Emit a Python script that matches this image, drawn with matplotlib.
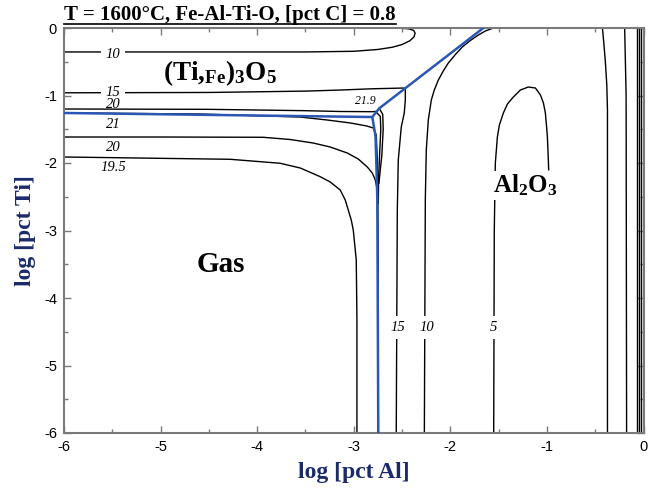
import matplotlib
matplotlib.use("Agg")
import matplotlib.pyplot as plt
from matplotlib.lines import Line2D
import numpy as np

# ---------------- data (log pct Al, log pct Ti) ----------------
x_ticks = [-6, -5, -4, -3, -2, -1, 0]
y_ticks = [0, -1, -2, -3, -4, -5, -6]

# phase boundary (blue)
bnd_top_x = [-6.0, -2.808, -2.736, -1.658]
bnd_top_y = [-1.259, -1.319, -1.19, 0.0]
bnd_vert_x = [-2.808, -2.775, -2.767, -2.756, -2.746]
bnd_vert_y = [-1.319, -1.6, -1.956, -2.548, -6.0]

# Ti3O5 region contour "10" (closed loop to the top)
c10a_x = [-6.0, -4.5, -3.5, -3.0, -2.75, -2.6, -2.5, -2.42, -2.375, -2.365, -2.38, -2.43, -2.52, -2.7, -4.0, -6.0]
c10a_y = [-0.355, -0.355, -0.355, -0.345, -0.318, -0.285, -0.245, -0.19, -0.13, -0.075, -0.035, -0.012, -0.003, 0.0, 0.0, 0.0]

# contour "15" (Ti3O5 horizontal, then Al2O3 vertical)
c15_x = [-6.0, -4.5, -3.5, -3.14, -2.8, -2.466, -2.466, -2.477, -2.508, -2.523, -2.539, -2.549, -2.56]
c15_y = [-0.96, -0.955, -0.935, -0.919, -0.90, -0.889, -1.067, -1.259, -1.467, -1.704, -1.956, -2.696, -6.0]

# contour "20" upper
c20u_x = [-6.0, -4.5, -3.5, -3.14, -2.80, -2.775, -2.725, -2.72, -2.73, -2.742, -2.746]
c20u_y = [-1.200, -1.205, -1.225, -1.237, -1.24, -1.235, -1.31, -1.5, -1.8, -2.2, -2.6]

# contour "21.9" (small, near triple point)
c219_x = [-2.736, -2.70, -2.695, -2.71, -2.74]
c219_y = [-1.19, -1.28, -1.5, -1.9, -2.3]

# gas region contours
c21_x = [-6.0, -4.591, -3.554, -3.275, -3.036, -2.87, -2.798, -2.767, -2.756, -2.752, -2.748]
c21_y = [-1.259, -1.274, -1.319, -1.363, -1.407, -1.45, -1.481, -1.585, -1.956, -2.5, -4.0]

c20l_x = [-6.0, -5.0, -3.938, -3.658, -3.42, -3.244, -3.067, -2.953, -2.86, -2.808, -2.777, -2.756, -2.748, -2.746]
c20l_y = [-1.615, -1.615, -1.619, -1.652, -1.704, -1.763, -1.852, -1.941, -2.059, -2.148, -2.252, -2.4, -3.5, -6.0]

c195_x = [-6.0, -4.28, -3.762, -3.554, -3.347, -3.244, -3.14, -3.088, -3.057, -3.026, -3.005, -2.974, -2.967, -2.967]
c195_y = [-1.911, -1.945, -2.004, -2.074, -2.203, -2.281, -2.4, -2.548, -2.696, -2.844, -2.993, -3.437, -4.326, -6.0]

# Al2O3 region contours
c10b_x = [-1.554, -1.637, -1.71, -1.793, -1.876, -1.948, -2.021, -2.073, -2.124, -2.166, -2.197, -2.228, -2.249, -2.259, -2.269]
c10b_y = [0.0, -0.044, -0.104, -0.185, -0.281, -0.393, -0.519, -0.637, -0.77, -0.919, -1.067, -1.363, -1.807, -2.548, -6.0]

c5_x = [-1.551, -1.545, -1.534, -1.513, -1.492, -1.451, -1.409, -1.347, -1.275, -1.192, -1.119, -1.067, -1.036, -1.016, -1.005, -0.995, -0.984, -0.982]
c5_y = [-6.0, -3.0, -2.0, -1.615, -1.437, -1.259, -1.126, -1.022, -0.919, -0.874, -0.889, -0.993, -1.111, -1.259, -1.437, -1.615, -2.0, -2.1]

cr1_x = [-0.425, -0.409, -0.394, -0.38, -0.373, -0.373]
cr1_y = [0.0, -0.252, -0.519, -0.844, -1.215, -6.0]
cr2_x = [-0.195, -0.18, -0.175]
cr2_y = [0.0, -1.0, -6.0]
cr3_x = [-0.065, -0.065]
cr3_y = [0.0, -6.0]
cr4_x = [-0.045, -0.045]
cr4_y = [0.0, -6.0]
cr5_x = [-0.022, -0.022]
cr5_y = [0.0, -6.0]

# contour labels: text, x, y
lab_text = ["10", "15", "20", "21", "20", "19.5", "15", "10", "5"]
lab_x = [-5.49, -5.49, -5.49, -5.49, -5.49, -5.49, -2.54, -2.24, -1.555]
lab_y = [-0.40, -0.95, -1.126, -1.437, -1.763, -2.06, -4.44, -4.44, -4.44]
lab_gap = [True, True, False, False, False, False, True, True, True]

# ---------------- figure ----------------
plt.rcParams['mathtext.default'] = 'regular'
serif = 'Liberation Serif'
sans = 'Liberation Sans'
navy = '#1b2a6b'
blue = '#2a56b4'
gray = '#7a7a7a'

fig = plt.figure(figsize=(6.51, 4.88), dpi=100)
ax = fig.add_axes([64/651, 1-433/488, (643.5-64)/651, (433-28)/488])
ax.set_xlim(-6, 0)
ax.set_ylim(-6, 0)

lw = 1.0
for xs, ys in [(c10a_x, c10a_y), (c15_x, c15_y), (c20u_x, c20u_y), (c219_x, c219_y),
               (c21_x, c21_y), (c20l_x, c20l_y), (c195_x, c195_y), (c10b_x, c10b_y),
               (c5_x, c5_y), (cr1_x, cr1_y), (cr2_x, cr2_y), (cr3_x, cr3_y),
               (cr4_x, cr4_y), (cr5_x, cr5_y)]:
    ax.plot(xs, ys, color='black', lw=lw, zorder=2, solid_joinstyle='round')

ax.plot(bnd_top_x, bnd_top_y, color=blue, lw=1.8, zorder=3)
ax.plot(bnd_vert_x, bnd_vert_y, color=blue, lw=1.8, zorder=3)

for t, x, y, g in zip(lab_text, lab_x, lab_y, lab_gap):
    kw = dict(family=serif, style='italic', fontsize=10.5, ha='center', va='center', zorder=4)
    if g:
        kw['bbox'] = dict(facecolor='white', edgecolor='none', pad=3.5)
    ax.text(x, y, t, **kw)
ax.text(-2.88, -1.08, "21.9", family=serif, style='italic', fontsize=8.5,
        ha='center', va='center', zorder=4)

# phase labels
ax.text(-4.39, -0.67, r'(Ti,$_{Fe}$)$_3$O$_5$', family=serif, weight='bold',
        fontsize=19.5, ha='center', va='center', zorder=5)
ax.text(-1.22, -2.33, r'Al$_2$O$_3$', family=serif, weight='bold', fontsize=18,
        ha='center', va='center', zorder=5,
        bbox=dict(facecolor='white', edgecolor='none', pad=1))
ax.text(-4.38, -3.51, 'Gas', family=serif, weight='bold', fontsize=21,
        ha='center', va='center', zorder=5)

# axes styling
ax.set_xticks(x_ticks)
ax.set_yticks(y_ticks)
ax.set_xticklabels([str(v) for v in x_ticks])
ax.set_yticklabels([str(v) for v in y_ticks])
ax.set_xticks(np.arange(-5.5, 0, 1.0), minor=True)
ax.set_yticks(np.arange(-5.5, 0, 1.0), minor=True)
ax.tick_params(which='both', direction='in', top=True, right=True, color=gray, width=1.0)
ax.tick_params(which='major', length=5, labelsize=10.5, pad=5)
ax.tick_params(which='minor', length=3)
for lbl in ax.get_xticklabels() + ax.get_yticklabels():
    lbl.set_family(sans)
for s in ax.spines.values():
    s.set_color(gray)
    s.set_linewidth(1.5)

ax.set_xlabel('log [pct Al]', family=serif, weight='bold', fontsize=17, color=navy, labelpad=6)
ax.set_ylabel('log [pct Ti]', family=serif, weight='bold', fontsize=17, color=navy, labelpad=6)

title = fig.text(64/651, 1-15/488, 'T = 1600\u00b0C, Fe-Al-Ti-O, [pct C] = 0.8',
                 family=serif, weight='bold', fontsize=15, ha='left', va='center')
fig.canvas.draw()
bb = title.get_window_extent(renderer=fig.canvas.get_renderer())
W, H = fig.canvas.get_width_height()
fig.add_artist(Line2D([bb.x0 / W, bb.x1 / W], [1-24/488, 1-24/488],
                      transform=fig.transFigure, color='black', lw=1.2))

fig.savefig('out.png', dpi=100)
